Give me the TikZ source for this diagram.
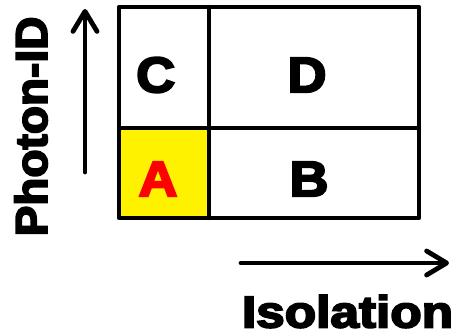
\documentclass[tikz,border=0pt]{standalone}
\usepackage{fontspec}
\usepackage{graphicx}
\newfontfamily\heavy{Liberation Sans Bold}[FakeBold=4]
\usetikzlibrary{arrows.meta}
\tikzset{
  grid/.style={line width=3.3pt, line join=round, line cap=round},
  axis/.style={line width=3.6pt, line cap=round, -{Straight Barb[length=15pt,width=18pt,line cap=round,line join=round]}},
  cell/.style={inner sep=0pt, font=\heavy\fontsize{37.5}{40}\selectfont},
  axlabel/.style={inner sep=0pt, font=\heavy\fontsize{33.5}{36}\selectfont}
}
\begin{document}
\begin{tikzpicture}[x=0.75pt,y=-0.75pt]
\useasboundingbox[fill=white] (0,0) rectangle (461,334);
\fill[yellow] (119,128) rectangle (209,218);
\draw[grid] (119,7) rectangle (419,218);
\draw[grid] (209,7) -- (209,218);
\draw[grid] (119,128) -- (419,128);
\node[cell] (c) at (155.7,75) {\scalebox{1.08}[1]{C}};
\node[cell] (d) at (307,75) {\scalebox{1.08}[1]{D}};
\node[cell, text=red] (a) at (158,179) {\scalebox{1.08}[1]{A}};
\node[cell] (b) at (309,179) {\scalebox{1.08}[1]{B}};
\coordinate (vy0) at (85,172);
\coordinate (vy1) at (85,9);
\draw[axis] (vy0) -- (vy1);
\coordinate (hx0) at (241,263);
\coordinate (hx1) at (449,263);
\draw[axis] (hx0) -- (hx1);
\node[axlabel, rotate=90] (pid) at (31,126.5) {\scalebox{1.03}[1]{Photon-ID}};
\node[axlabel] (iso) at (347.5,311.5) {\scalebox{1.15}[1]{Isolation}};
\end{tikzpicture}
\end{document}
